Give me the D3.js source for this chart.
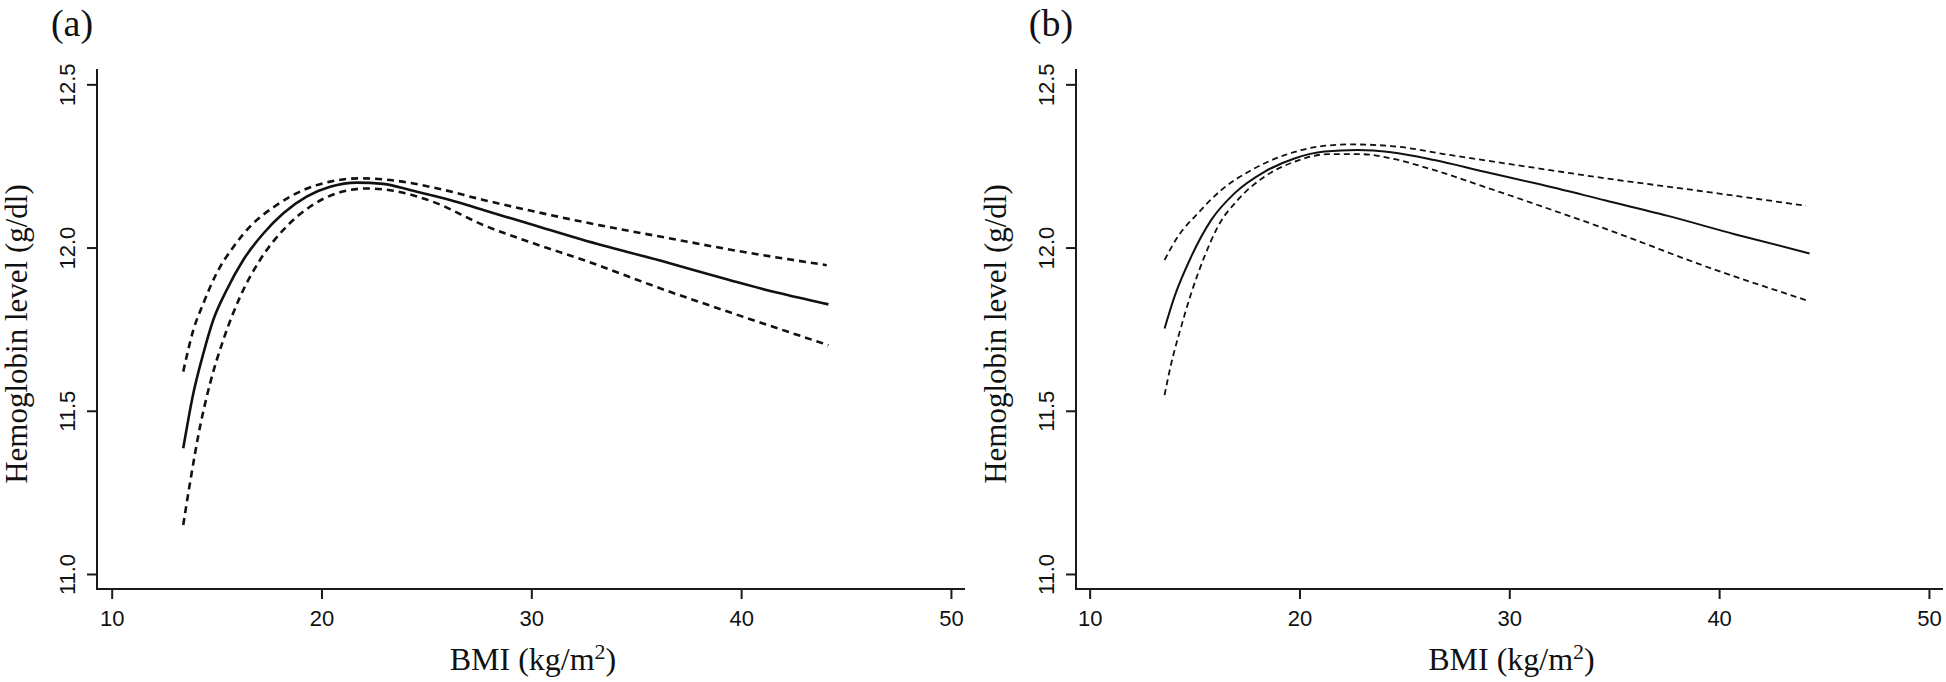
<!DOCTYPE html>
<html>
<head>
<meta charset="utf-8">
<script src="https://cdn.jsdelivr.net/npm/d3@7"></script>
<style>
  html, body { margin: 0; padding: 0; background: #fff; }
  svg { display: block; }
</style>
</head>
<body>
<svg id="chart" width="1946" height="682"></svg>
<script>
// ---------- data ----------
const xTicks = [10, 20, 30, 40, 50];
const yTicks = [11.0, 11.5, 12.0, 12.5];
const panelLabels = ["(a)", "(b)"];
const yTitle = "Hemoglobin level (g/dl)";
const xTitle = "BMI (kg/m";

// Panel (a)
const fitA_x   = [13.41, 13.89, 14.37, 14.84, 15.48, 16.27, 17.23, 18.18, 19.29, 20.41, 21.68, 22.95, 24.22, 26.13, 27.71, 30.10, 32.48, 36.14, 39.31, 41.70, 44.16];
const fitA_y   = [11.385, 11.553, 11.676, 11.778, 11.870, 11.962, 12.043, 12.105, 12.156, 12.186, 12.199, 12.195, 12.176, 12.146, 12.115, 12.069, 12.023, 11.960, 11.903, 11.862, 11.826];
const upperA_x = [13.41, 13.89, 14.37, 15.00, 15.80, 16.59, 17.86, 19.13, 20.41, 21.83, 23.26, 25.33, 27.71, 30.89, 33.28, 36.45, 39.63, 44.08];
const upperA_y = [11.620, 11.747, 11.829, 11.921, 12.002, 12.064, 12.130, 12.176, 12.202, 12.212, 12.207, 12.184, 12.146, 12.100, 12.068, 12.030, 11.992, 11.946];
const lowerA_x = [13.41, 13.73, 14.21, 14.69, 15.32, 16.12, 17.07, 18.18, 19.45, 20.72, 22.15, 23.42, 25.33, 27.71, 30.10, 32.48, 36.45, 39.63, 44.16];
const lowerA_y = [11.150, 11.278, 11.451, 11.584, 11.717, 11.849, 11.962, 12.054, 12.125, 12.166, 12.181, 12.174, 12.140, 12.069, 12.013, 11.962, 11.868, 11.798, 11.701];

// Panel (b)
const fitB_x   = [13.57, 14.04, 14.84, 15.79, 16.90, 18.33, 19.76, 21.19, 22.78, 24.37, 26.43, 28.82, 31.30, 34.60, 37.56, 40.74, 44.31];
const fitB_y   = [11.752, 11.849, 11.972, 12.084, 12.166, 12.232, 12.273, 12.294, 12.299, 12.292, 12.268, 12.232, 12.196, 12.144, 12.097, 12.041, 11.982];
const upperB_x = [13.57, 14.20, 15.16, 16.27, 17.70, 19.29, 20.88, 22.46, 24.37, 27.23, 30.41, 34.60, 39.37, 44.14];
const upperB_y = [11.962, 12.033, 12.105, 12.176, 12.237, 12.283, 12.309, 12.316, 12.311, 12.283, 12.252, 12.212, 12.171, 12.128];
const lowerB_x = [13.57, 13.89, 14.36, 14.84, 15.47, 16.11, 17.06, 18.33, 19.76, 21.35, 22.94, 24.37, 26.43, 28.82, 31.28, 34.60, 39.37, 44.14];
const lowerB_y = [11.548, 11.645, 11.757, 11.860, 11.972, 12.064, 12.146, 12.217, 12.263, 12.286, 12.286, 12.273, 12.237, 12.186, 12.132, 12.057, 11.942, 11.839];

// ---------- drawing ----------
const svg = d3.select("#chart");
const AXIS = "#1a1a1a";
const SERIF = "'Liberation Serif', 'Times New Roman', serif";
const SANS = "'Liberation Sans', Arial, sans-serif";

const panels = [
  { label: panelLabels[0], left: 97, right: 965, xDom: [9.30, 50.67],
    series: [
      { xs: fitA_x, ys: fitA_y, dash: null, w: 2.6 },
      { xs: upperA_x, ys: upperA_y, dash: "7,5", w: 2.6 },
      { xs: lowerA_x, ys: lowerA_y, dash: "7,5", w: 2.6 }
    ]},
  { label: panelLabels[1], left: 1076, right: 1943, xDom: [9.35, 50.67],
    series: [
      { xs: fitB_x, ys: fitB_y, dash: null, w: 2.0 },
      { xs: upperB_x, ys: upperB_y, dash: "6,4", w: 1.8 },
      { xs: lowerB_x, ys: lowerB_y, dash: "6,4", w: 1.8 }
    ]}
];

const plotTop = 69, plotBottom = 589;

panels.forEach(p => {
  const x = d3.scaleLinear().domain(p.xDom).range([p.left, p.right]);
  const y = d3.scaleLinear().domain([10.954, 12.547]).range([plotBottom, plotTop]);
  const g = svg.append("g");

  // L-shaped box
  g.append("path")
    .attr("d", `M${p.left},${plotTop}V${plotBottom}H${p.right}`)
    .attr("fill", "none").attr("stroke", AXIS).attr("stroke-width", 2);

  // x axis
  const xa = g.append("g").attr("transform", `translate(0,${plotBottom})`)
    .call(d3.axisBottom(x).tickValues(xTicks).tickSize(10).tickSizeOuter(0).tickFormat(d3.format("d")));
  xa.select(".domain").remove();
  xa.selectAll(".tick line").attr("stroke", AXIS).attr("stroke-width", 2);
  xa.selectAll(".tick text")
    .attr("y", 37).attr("dy", null)
    .attr("fill", "#111")
    .style("font-family", SANS).style("font-size", "22px");

  // y axis
  const ya = g.append("g").attr("transform", `translate(${p.left},0)`)
    .call(d3.axisLeft(y).tickValues(yTicks).tickSize(10).tickSizeOuter(0).tickFormat(d3.format(".1f")));
  ya.select(".domain").remove();
  ya.selectAll(".tick line").attr("stroke", AXIS).attr("stroke-width", 2);
  ya.selectAll(".tick text")
    .attr("x", 0).attr("y", -22).attr("dy", null)
    .attr("transform", "rotate(-90)")
    .attr("text-anchor", "middle")
    .attr("fill", "#111")
    .style("font-family", SANS).style("font-size", "22px");

  // curves
  const line = d3.line().x(d => x(d[0])).y(d => y(d[1])).curve(d3.curveMonotoneX);
  p.series.forEach(s => {
    const pts = s.xs.map((v, i) => [v, s.ys[i]]);
    g.append("path")
      .attr("d", line(pts))
      .attr("fill", "none")
      .attr("stroke", "#111")
      .attr("stroke-width", s.w)
      .attr("stroke-dasharray", s.dash);
  });

  // y title
  g.append("text")
    .attr("transform", `translate(${p.left - 70},334) rotate(-90)`)
    .attr("text-anchor", "middle")
    .attr("fill", "#111")
    .style("font-family", SERIF).style("font-size", "31px")
    .text(yTitle);

  // x title with superscript
  const xt = g.append("text")
    .attr("x", (p.left + p.right) / 2 + 2).attr("y", 670)
    .attr("text-anchor", "middle")
    .attr("fill", "#111")
    .style("font-family", SERIF).style("font-size", "32px");
  xt.append("tspan").text(xTitle);
  xt.append("tspan").attr("dy", -11).style("font-size", "22px").text("2");
  xt.append("tspan").attr("dy", 11).text(")");

  // panel label
  g.append("text")
    .attr("x", p.left - 25).attr("y", 36)
    .attr("text-anchor", "middle")
    .attr("fill", "#111")
    .style("font-family", SERIF).style("font-size", "38px")
    .text(p.label);
});
</script>
</body>
</html>
